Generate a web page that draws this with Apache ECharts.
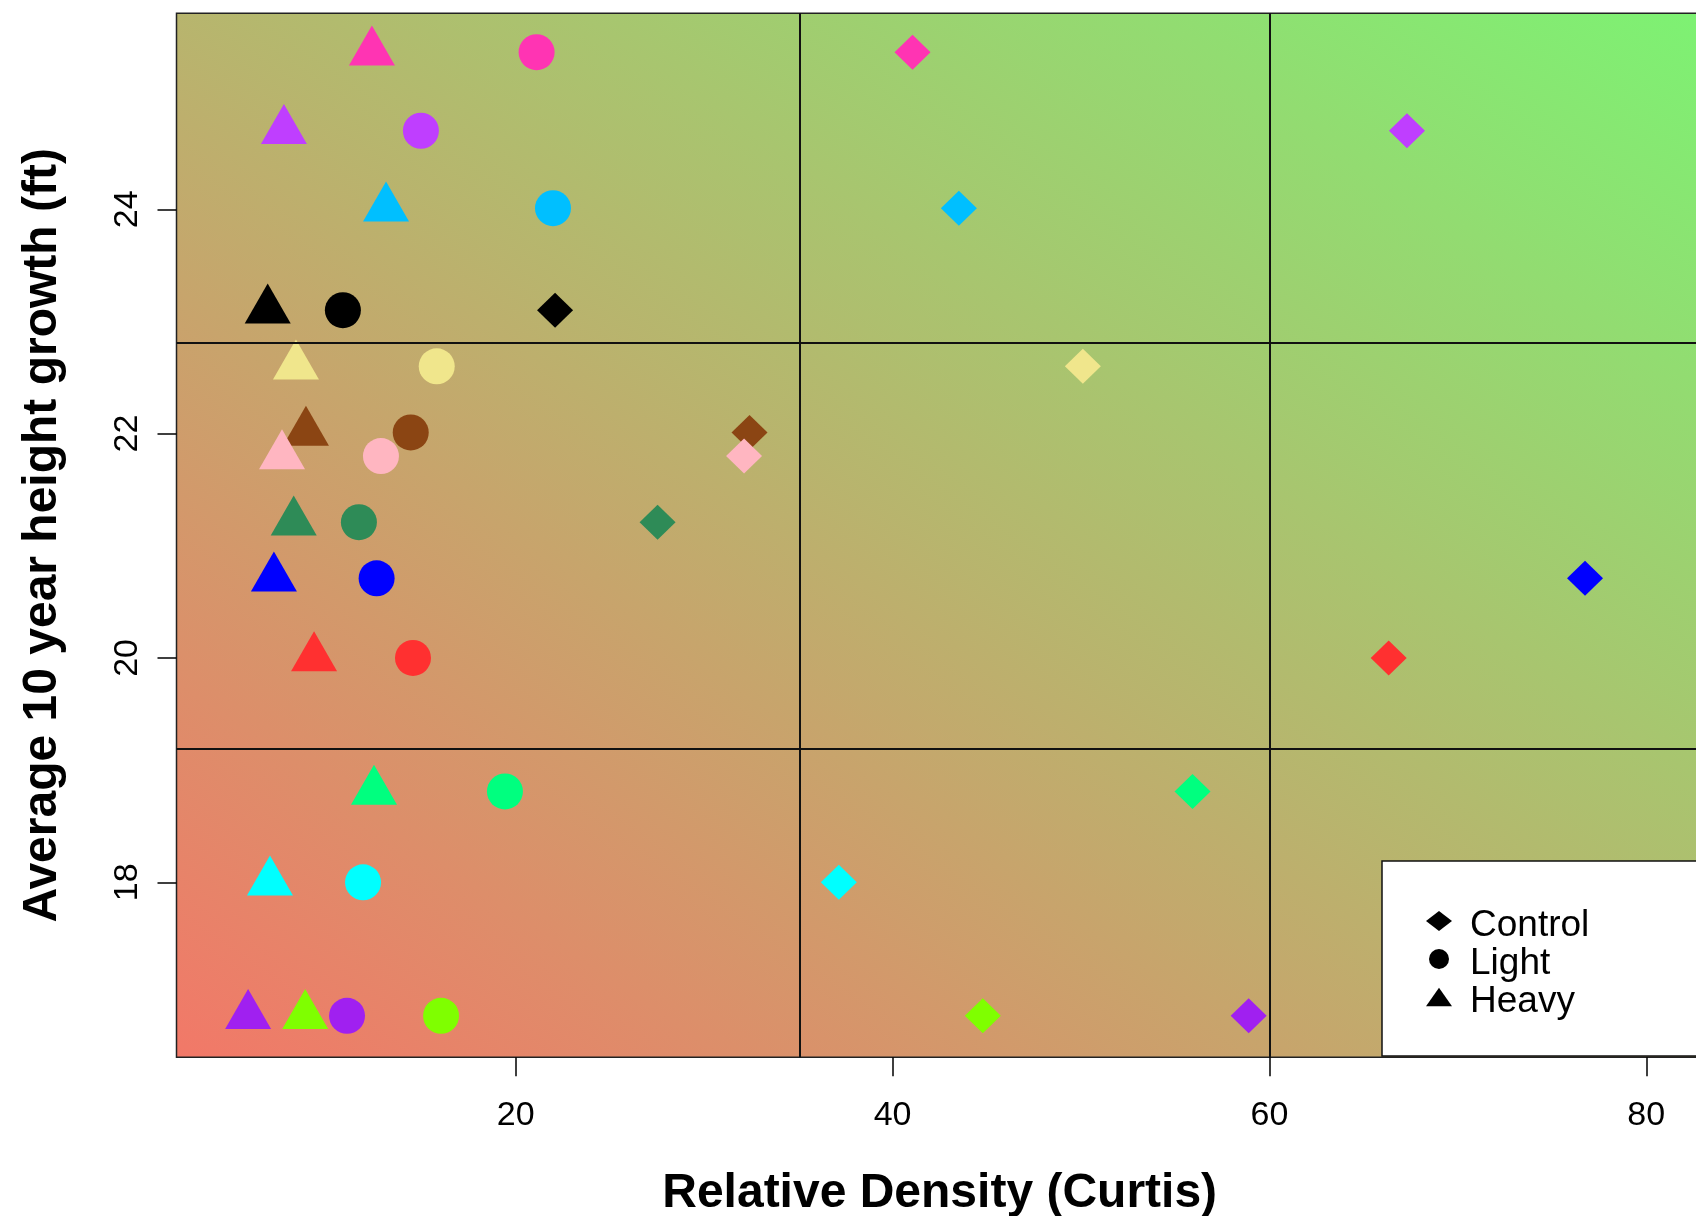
<!DOCTYPE html>
<html>
<head>
<meta charset="utf-8">
<script src="https://cdn.jsdelivr.net/npm/echarts@6/dist/echarts.min.js"></script>
<style>
html,body{margin:0;padding:0;background:#fff;}
#chart{width:1696px;height:1216px;}
</style>
</head>
<body>
<div id="chart"></div>
<script>
// Sites (one colour per site), same order in every array
const siteColors = ["#FF34B3", "#BF3EFF", "#00BFFF", "#000000", "#F0E68C", "#8B4513", "#FFB6C1",
                    "#2E8B57", "#0000FF", "#FF3030", "#00FF7F", "#00FFFF", "#A020F0", "#7FFF00"];
// Average 10 year height growth (ft) per site
const heightGrowth = [25.40, 24.70, 24.01, 23.10, 22.60, 22.01, 21.80, 21.21, 20.71, 20.00, 18.81, 18.00, 16.81, 16.81];
// Relative Density (Curtis) per treatment
const densityControl = [41.06, 67.30, 43.52, 22.09, 50.10, 32.41, 32.12, 27.53, 76.75, 66.33, 55.92, 37.15, 58.90, 44.79];
const densityLight   = [21.11, 14.97, 21.98, 10.83, 15.81, 14.43, 12.85, 11.68, 12.62, 14.55, 19.43, 11.90, 11.05, 16.04];
const densityHeavy   = [12.37, 7.70, 13.12, 6.84, 8.34, 8.87, 7.60, 8.22, 7.17, 9.30, 12.48, 6.96, 5.80, 8.83];
// Reference lines
const vLines = [35.1, 60];
const hLines = [22.81, 19.19];
// Tick labels
const xTicks = [20, 40, 60, 80];
const yTicks = [18, 20, 22, 24];
const treatments = ["Control", "Light", "Heavy"];

function pts(xs) {
  return xs.map((x, i) => ({ value: [x, heightGrowth[i]], itemStyle: { color: siteColors[i], opacity: 1 } }));
}

const FONT = "Liberation Sans, Arial, sans-serif";
const chart = echarts.init(document.getElementById('chart'), null, { renderer: 'canvas' });

const option = {
  animation: false,
  backgroundColor: '#ffffff',
  grid: {
    show: true,
    outerBoundsMode: 'none',
    containLabel: false,
    left: 176.5, width: 1526.3, top: 13.3, height: 1044,
    borderColor: '#222', borderWidth: 1.5,
    backgroundColor: new echarts.graphic.LinearGradient(0, 1, 0.6375, -0.3625, [
      { offset: 0, color: '#F27868' },
      { offset: 1, color: '#7DF273' }
    ])
  },
  xAxis: {
    type: 'value', min: 2, max: 83,
    axisLine: { show: false },
    splitLine: { show: false },
    axisTick: { show: true, length: 19, lineStyle: { color: '#000', width: 1.5 }, customValues: xTicks },
    axisLabel: { fontSize: 34, color: '#000', fontFamily: FONT, margin: 41, customValues: xTicks },
    name: 'Relative Density (Curtis)', nameLocation: 'middle', nameGap: 112,
    nameTextStyle: { fontSize: 48, fontWeight: 'bold', color: '#000', fontFamily: FONT }
  },
  yAxis: {
    type: 'value', min: 16.44, max: 25.747,
    axisLine: { show: false },
    splitLine: { show: false },
    axisTick: { show: true, length: 19, lineStyle: { color: '#000', width: 1.5 }, customValues: yTicks },
    axisLabel: { fontSize: 34, color: '#000', fontFamily: FONT, margin: 32, rotate: 90, customValues: yTicks },
    name: 'Average 10 year height growth (ft)', nameLocation: 'middle', nameGap: 110,
    nameTextStyle: { fontSize: 48, fontWeight: 'bold', color: '#000', fontFamily: FONT }
  },
  legend: {
    orient: 'vertical',
    left: 1382, top: 861,
    padding: [37, 200, 36, 44],
    itemGap: -8,
    itemWidth: 26, itemHeight: 20,
    backgroundColor: '#fff', borderColor: '#111', borderWidth: 1.5, borderRadius: 0,
    formatter: '{t|{name}}',
    textStyle: {
      fontSize: 37, color: '#000', fontFamily: FONT, lineHeight: 38, padding: [0, 0, 0, 13],
      rich: { t: { fontSize: 37, color: '#000', fontFamily: FONT, lineHeight: 38, padding: [9, 0, 0, 0] } }
    },
    data: [
      { name: 'Control', icon: 'diamond', itemStyle: { color: '#000' } },
      { name: 'Light', icon: 'circle', itemStyle: { color: '#000' } },
      { name: 'Heavy', icon: 'path://M0,19L13.5,0L27,19Z', itemStyle: { color: '#000' } }
    ],
    selectedMode: false
  },
  series: [
    {
      name: 'Lines', type: 'scatter', data: [], silent: true, z: 1,
      markLine: {
        silent: true, symbol: ['none', 'none'], animation: false,
        label: { show: false },
        lineStyle: { color: '#111', width: 2, type: 'solid' },
        data: vLines.map(v => ({ xAxis: v })).concat(hLines.map(v => ({ yAxis: v })))
      }
    },
    { name: treatments[0], type: 'scatter', symbol: 'diamond', symbolSize: [36, 35], itemStyle: { opacity: 1 }, data: pts(densityControl), z: 3 },
    { name: treatments[1], type: 'scatter', symbol: 'circle', symbolSize: 36, itemStyle: { opacity: 1 }, data: pts(densityLight), z: 3 },
    { name: treatments[2], type: 'scatter', symbol: 'triangle', symbolSize: [46, 40], symbolOffset: [0, -6.7], itemStyle: { opacity: 1 }, data: pts(densityHeavy), z: 3 }
  ]
};
chart.setOption(option);
</script>
</body>
</html>
